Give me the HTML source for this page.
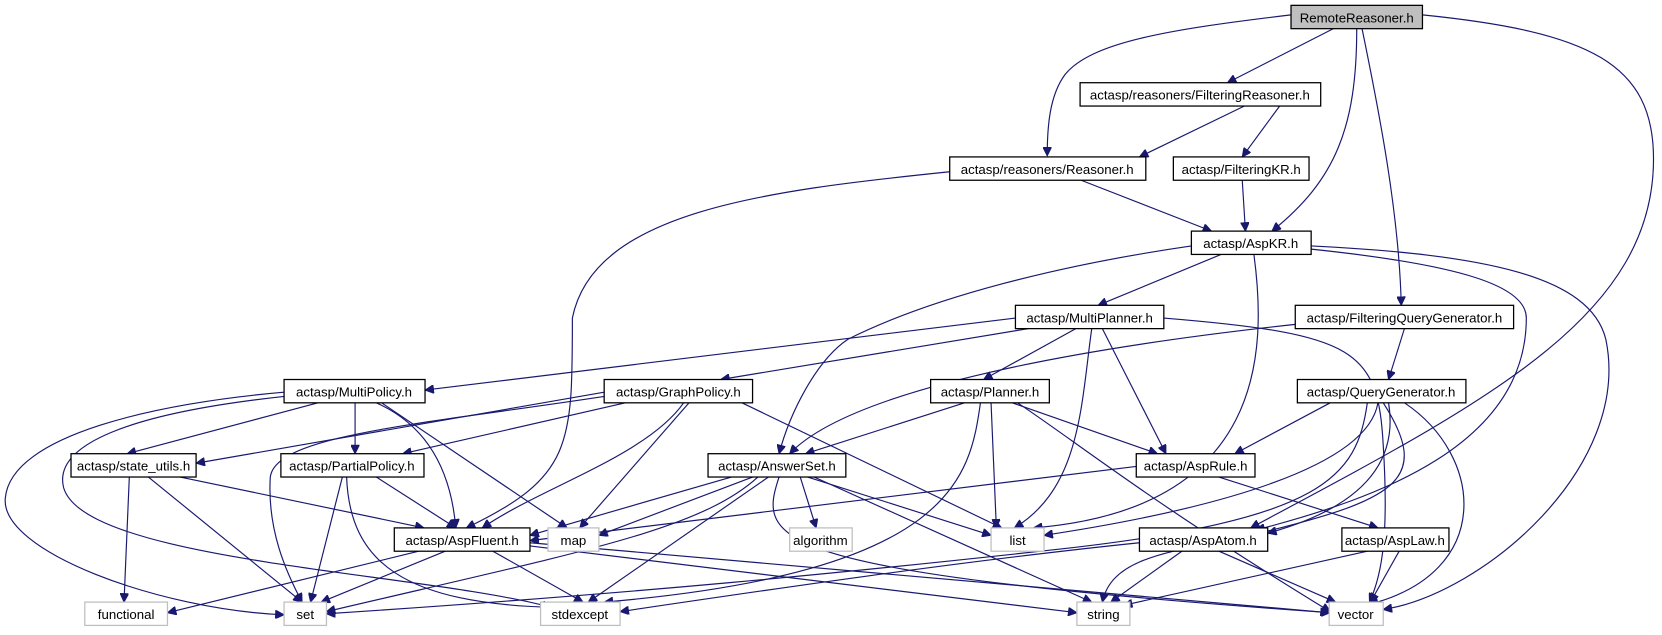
<!DOCTYPE html>
<html><head><meta charset="utf-8"><style>
html,body{margin:0;padding:0;background:#fff;width:1662px;height:635px;overflow:hidden}
svg{display:block}
text{font-family:"Liberation Sans",sans-serif;font-size:12.5px;fill:#000;text-anchor:middle}
.n{fill:#fff;stroke:#000;stroke-width:1.2}
.g{fill:#fff;stroke:#bfbfbf;stroke-width:1.2}
.r{fill:#bfbfbf;stroke:#000;stroke-width:1.2}
path{fill:none;stroke:#191970;stroke-width:1.1;marker-end:url(#a)}
</style></head><body>
<svg width="1662" height="635" viewBox="0 0 1568 599" xmlns="http://www.w3.org/2000/svg">
<defs><marker id="a" viewBox="0 0 10 10" refX="10" refY="5" markerWidth="9" markerHeight="8" orient="auto" markerUnits="userSpaceOnUse"><path d="M0,0 L10,5 L0,10 z" style="fill:#191970;stroke:#191970;marker-end:none"/></marker></defs>
<!-- edges -->
<path d="M1218,14 C1100,28 1030,40 1005,70 C990,90 988,120 988,147"/>
<path d="M1258,27 L1158,78"/>
<path d="M1280,27 C1280,120 1260,170 1200,218"/>
<path d="M1285,27 C1300,100 1320,200 1322,288"/>
<path d="M1342,14 C1500,30 1560,60 1560,150 C1560,300 1400,380 1180,498"/>
<path d="M1176,99 L1075,148"/>
<path d="M1208,99 L1172,148"/>
<path d="M1020,170 L1143,218"/>
<path d="M896,162 C720,180 560,200 540,300 C540,420 540,450 440,498"/>
<path d="M1172,170 L1175,218"/>
<path d="M1152,240 L1036,288"/>
<path d="M1124,232 C1000,250 880,280 800,320 C770,340 745,390 735,428"/>
<path d="M1183,240 C1195,330 1195,480 975,498"/>
<path d="M1237,235 C1380,250 1440,270 1440,300 C1440,420 1300,470 1185,500"/>
<path d="M1237,232 C1400,240 1500,260 1515,320 C1540,440 1400,560 1305,575"/>
<path d="M958,300 L401,368"/>
<path d="M970,310 L680,358"/>
<path d="M1015,310 L928,358"/>
<path d="M1030,310 C1020,380 1020,460 957,498"/>
<path d="M1040,310 L1100,428"/>
<path d="M1098,300 C1280,315 1300,330 1305,420 C1310,500 1305,540 1292,568"/>
<path d="M1325,310 L1310,358"/>
<path d="M1222,306 C1000,330 800,370 745,428"/>
<path d="M300,380 L120,428"/>
<path d="M335,380 L335,428"/>
<path d="M355,380 C400,400 425,440 430,498"/>
<path d="M360,380 L535,498"/>
<path d="M268,370 C150,380 10,410 5,470 C0,520 150,575 268,580"/>
<path d="M268,374 C120,390 50,420 60,460 C80,530 400,540 520,573"/>
<path d="M570,370 L185,437"/>
<path d="M590,380 L380,428"/>
<path d="M645,380 C610,430 510,460 455,498"/>
<path d="M650,380 L547,498"/>
<path d="M700,380 L945,498"/>
<path d="M570,374 C400,400 260,410 255,450 C252,500 270,540 285,568"/>
<path d="M910,380 L760,428"/>
<path d="M955,380 L1092,428"/>
<path d="M935,380 L940,498"/>
<path d="M925,380 C915,450 900,540 570,568"/>
<path d="M960,380 C1020,420 1080,470 1255,577"/>
<path d="M1255,380 L1165,428"/>
<path d="M1300,380 C1290,440 1150,480 985,505"/>
<path d="M1310,380 C1320,440 1280,480 1196,503"/>
<path d="M1325,380 C1400,430 1410,540 1292,570"/>
<path d="M1290,380 C1280,450 1250,490 1000,518 C800,540 600,560 308,579"/>
<path d="M1305,380 C1350,450 1320,470 1200,500 C1120,520 1050,520 1040,568"/>
<path d="M690,450 L500,505"/>
<path d="M710,450 L565,505"/>
<path d="M715,450 C660,500 550,520 308,577"/>
<path d="M725,450 L555,568"/>
<path d="M755,450 L770,498"/>
<path d="M762,450 L935,505"/>
<path d="M768,450 L1030,568"/>
<path d="M735,450 C715,510 720,540 1255,578"/>
<path d="M1072,440 L500,510"/>
<path d="M1150,450 L1300,498"/>
<path d="M122,450 L117,568"/>
<path d="M140,450 L285,568"/>
<path d="M170,450 L400,498"/>
<path d="M323,450 L293,568"/>
<path d="M327,450 C330,530 380,570 525,573"/>
<path d="M355,450 L430,498"/>
<path d="M395,520 L158,578"/>
<path d="M420,520 L303,568"/>
<path d="M465,520 L550,568"/>
<path d="M500,515 L1016,578"/>
<path d="M500,512 L1254,578"/>
<path d="M1075,512 C900,530 700,560 585,577"/>
<path d="M1115,520 L1048,568"/>
<path d="M1150,520 L1260,568"/>
<path d="M1290,520 L1060,571"/>
<path d="M1320,520 L1293,568"/>
<!-- nodes -->
<rect class="r" x="1218" y="5" width="124" height="22"/><text x="1280" y="21">RemoteReasoner.h</text>
<rect class="n" x="1019" y="78" width="227" height="22"/><text x="1132" y="94">actasp/reasoners/FilteringReasoner.h</text>
<rect class="n" x="896" y="148" width="185" height="22"/><text x="988" y="164">actasp/reasoners/Reasoner.h</text>
<rect class="n" x="1107" y="148" width="128" height="22"/><text x="1171" y="164">actasp/FilteringKR.h</text>
<rect class="n" x="1124" y="218" width="113" height="22"/><text x="1180" y="234">actasp/AspKR.h</text>
<rect class="n" x="958" y="288" width="140" height="22"/><text x="1028" y="304">actasp/MultiPlanner.h</text>
<rect class="n" x="1222" y="288" width="206" height="22"/><text x="1325" y="304">actasp/FilteringQueryGenerator.h</text>
<rect class="n" x="268" y="358" width="133" height="22"/><text x="334" y="374">actasp/MultiPolicy.h</text>
<rect class="n" x="570" y="358" width="140" height="22"/><text x="640" y="374">actasp/GraphPolicy.h</text>
<rect class="n" x="878" y="358" width="112" height="22"/><text x="934" y="374">actasp/Planner.h</text>
<rect class="n" x="1224" y="358" width="159" height="22"/><text x="1303" y="374">actasp/QueryGenerator.h</text>
<rect class="n" x="67" y="428" width="118" height="22"/><text x="126" y="444">actasp/state_utils.h</text>
<rect class="n" x="265" y="428" width="135" height="22"/><text x="332" y="444">actasp/PartialPolicy.h</text>
<rect class="n" x="668" y="428" width="130" height="22"/><text x="733" y="444">actasp/AnswerSet.h</text>
<rect class="n" x="1072" y="428" width="112" height="22"/><text x="1128" y="444">actasp/AspRule.h</text>
<rect class="n" x="372" y="498" width="128" height="22"/><text x="436" y="514">actasp/AspFluent.h</text>
<rect class="g" x="517" y="498" width="48" height="22"/><text x="541" y="514">map</text>
<rect class="g" x="745" y="498" width="59" height="22"/><text x="774" y="514">algorithm</text>
<rect class="g" x="935" y="498" width="50" height="22"/><text x="960" y="514">list</text>
<rect class="n" x="1075" y="498" width="121" height="22"/><text x="1135" y="514">actasp/AspAtom.h</text>
<rect class="n" x="1266" y="498" width="101" height="22"/><text x="1316" y="514">actasp/AspLaw.h</text>
<rect class="g" x="80" y="568" width="78" height="22"/><text x="119" y="584">functional</text>
<rect class="g" x="268" y="568" width="40" height="22"/><text x="288" y="584">set</text>
<rect class="g" x="510" y="568" width="75" height="22"/><text x="547" y="584">stdexcept</text>
<rect class="g" x="1016" y="568" width="50" height="22"/><text x="1041" y="584">string</text>
<rect class="g" x="1254" y="568" width="51" height="22"/><text x="1279" y="584">vector</text>
</svg>
</body></html>
